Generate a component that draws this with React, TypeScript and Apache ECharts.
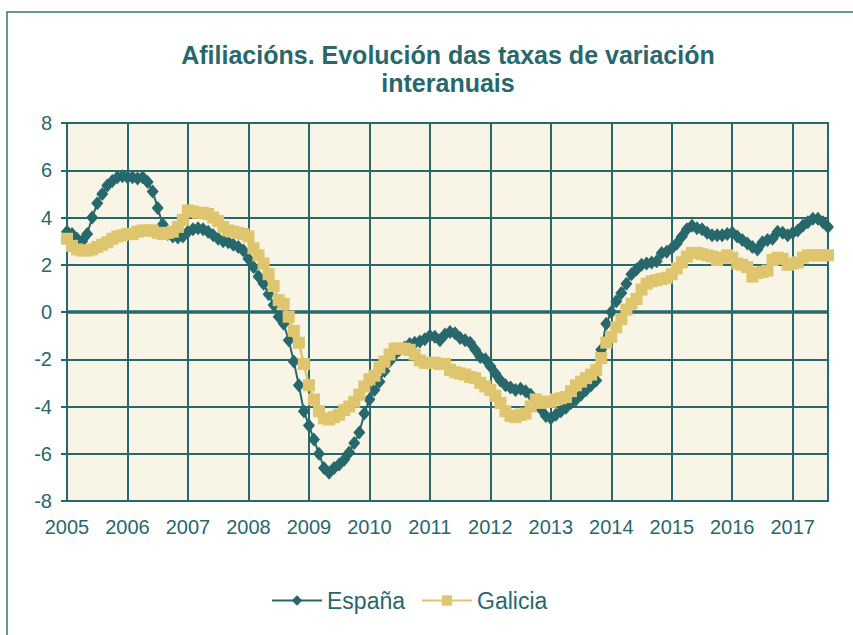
import React, { useEffect, useRef } from "react";
import * as echarts from "echarts";

const startYear = 2005;
const monthCount = 152;
const months: string[] = Array.from(
  { length: monthCount },
  (_, i) => `${startYear + Math.floor(i / 12)}-${String((i % 12) + 1).padStart(2, "0")}`
);

const espana = [
  3.4, 3.3, 3.1, 3.0, 3.3, 4.0, 4.6, 5.0, 5.35, 5.55, 5.7, 5.75,
  5.7, 5.7, 5.65, 5.7, 5.5, 5.1, 4.4, 3.7, 3.3, 3.2, 3.15, 3.2,
  3.4, 3.5, 3.55, 3.5, 3.4, 3.25, 3.1, 3.0, 2.95, 2.85, 2.75, 2.6,
  2.25, 1.9, 1.5, 1.2, 0.75, 0.3, -0.2, -0.5, -1.2, -2.1, -3.1, -4.2,
  -4.8, -5.4, -6.0, -6.6, -6.8, -6.6, -6.45, -6.25, -5.95, -5.55, -5.1, -4.3,
  -3.7, -3.3, -2.95, -2.5, -2.1, -1.8, -1.6, -1.5, -1.35, -1.3, -1.25, -1.15,
  -1.0, -1.05, -1.2, -0.95, -0.85, -0.9, -1.1, -1.2, -1.3, -1.6, -1.9, -2.0,
  -2.3, -2.6, -2.9, -3.1, -3.2, -3.3, -3.25, -3.35, -3.5, -3.8, -4.1, -4.4,
  -4.5, -4.35, -4.2, -4.05, -3.85, -3.7, -3.5, -3.3, -3.1, -2.9, -1.6, -0.5,
  0.0, 0.45, 0.8, 1.2, 1.6, 1.8, 2.0, 2.05, 2.1, 2.15, 2.5, 2.55,
  2.7, 2.9, 3.2, 3.5, 3.65, 3.55, 3.5, 3.35, 3.25, 3.25, 3.25, 3.3,
  3.35, 3.2, 3.05, 2.9, 2.75, 2.65, 2.95, 3.05, 3.1, 3.4, 3.35, 3.25,
  3.35, 3.45, 3.65, 3.8, 3.95, 3.95, 3.8, 3.6,
];

const galicia = [
  3.1, 2.8, 2.65, 2.6, 2.6, 2.65, 2.75, 2.85, 2.95, 3.1, 3.2, 3.25,
  3.3, 3.3, 3.4, 3.45, 3.45, 3.45, 3.35, 3.3, 3.35, 3.4, 3.6, 3.9,
  4.3, 4.25, 4.2, 4.2, 4.15, 4.0, 3.85, 3.6, 3.45, 3.4, 3.35, 3.3,
  3.2, 2.7, 2.4, 2.05, 1.6, 1.1, 0.5, 0.35, -0.2, -0.8, -1.3, -2.2,
  -3.1, -3.7, -4.2, -4.5, -4.55, -4.45, -4.35, -4.15, -4.0, -3.8, -3.5, -3.15,
  -2.85, -2.7, -2.35, -2.1, -1.8, -1.55, -1.55, -1.55, -1.6, -1.8, -2.05, -2.15,
  -2.15, -2.15, -2.2, -2.2, -2.45, -2.55, -2.6, -2.65, -2.75, -2.8, -3.0, -3.15,
  -3.3, -3.55, -3.85, -4.2, -4.4, -4.45, -4.35, -4.3, -4.0, -3.7, -3.85, -3.8,
  -3.8, -3.7, -3.65, -3.6, -3.35, -3.1, -2.95, -2.8, -2.65, -2.45, -1.95, -1.3,
  -1.05, -0.65, -0.3, 0.1, 0.35, 0.55, 0.95, 1.2, 1.3, 1.35, 1.4, 1.45,
  1.6, 1.85, 2.1, 2.35, 2.5, 2.5, 2.45, 2.4, 2.35, 2.2, 2.3, 2.4,
  2.3, 2.05, 2.0, 1.9, 1.5, 1.65, 1.7, 1.75, 2.2, 2.3, 2.25, 2.0,
  2.05, 2.1, 2.3, 2.4, 2.4, 2.4, 2.4, 2.4,
];

const yMin = -8;
const yMax = 8;
const yStep = 2;

const TEAL = "#26686B";
const GOLD = "#DEC56E";
const CREAM = "#F8F4E6";
const FONT = "Liberation Sans, Arial, sans-serif";

export default function App() {
  const ref = useRef<HTMLDivElement>(null);

  useEffect(() => {
    if (!ref.current) return;
    const chart = echarts.init(ref.current, undefined, { renderer: "svg" });
    const yearTick = (i: number) => i % 12 === 0;
    chart.setOption({
      animation: false,
      backgroundColor: "#ffffff",
      textStyle: { fontFamily: FONT },
      title: {
        text: "Afiliacións. Evolución das taxas de variación\ninteranuais",
        left: 443,
        top: 36,
        textAlign: "center",
        textStyle: {
          fontFamily: FONT,
          fontSize: 25,
          fontWeight: "bold",
          color: TEAL,
          lineHeight: 28,
        },
      },
      graphic: [
        {
          type: "rect",
          shape: { x: 7, y: 12, width: 900, height: 700 },
          style: { fill: "none", stroke: "#3C7376", lineWidth: 1.5 },
          silent: true,
          z: -1,
        },
      ],
      legend: {
        top: 584,
        left: 266,
        itemWidth: 50,
        itemHeight: 13,
        itemGap: 16,
        textStyle: { fontFamily: FONT, fontSize: 23, color: TEAL },
        data: ["España", "Galicia"],
      },
      grid: {
        left: 67,
        right: 25,
        top: 123,
        bottom: 134,
        show: true,
        backgroundColor: CREAM,
        borderColor: TEAL,
        borderWidth: 2,
      },
      xAxis: {
        type: "category",
        data: months,
        boundaryGap: false,
        axisLine: { show: false },
        axisTick: { show: false },
        axisLabel: {
          interval: (i: number) => yearTick(i),
          formatter: (v: string) => v.slice(0, 4),
          color: TEAL,
          fontSize: 20,
          fontFamily: FONT,
          margin: 16,
        },
        splitLine: {
          show: true,
          interval: (i: number) => yearTick(i),
          lineStyle: { color: TEAL, width: 2 },
        },
      },
      yAxis: {
        type: "value",
        min: yMin,
        max: yMax,
        interval: yStep,
        axisLine: { show: true, lineStyle: { color: TEAL, width: 2 } },
        axisTick: { show: true, length: 6, lineStyle: { color: TEAL, width: 2 } },
        axisLabel: { color: TEAL, fontSize: 20, fontFamily: FONT, margin: 15 },
        splitLine: { show: true, lineStyle: { color: TEAL, width: 2 } },
      },
      series: [
        {
          name: "España",
          type: "line",
          data: espana,
          symbol: "diamond",
          symbolSize: [12, 14],
          showAllSymbol: true,
          itemStyle: { color: TEAL },
          lineStyle: { color: TEAL, width: 2 },
          markLine: {
            silent: true,
            symbol: ["none", "none"],
            label: { show: false },
            lineStyle: { color: TEAL, width: 3.5, type: "solid" },
            data: [{ yAxis: 0 }],
            z: 1,
          },
        },
        {
          name: "Galicia",
          type: "line",
          data: galicia,
          symbol: "rect",
          symbolSize: 12,
          showAllSymbol: true,
          itemStyle: { color: GOLD },
          lineStyle: { color: GOLD, width: 2.5 },
        },
      ],
    });
    return () => chart.dispose();
  }, []);

  return (
    <div
      ref={ref}
      style={{ position: "absolute", left: 0, top: 0, width: 853, height: 635 }}
    />
  );
}
